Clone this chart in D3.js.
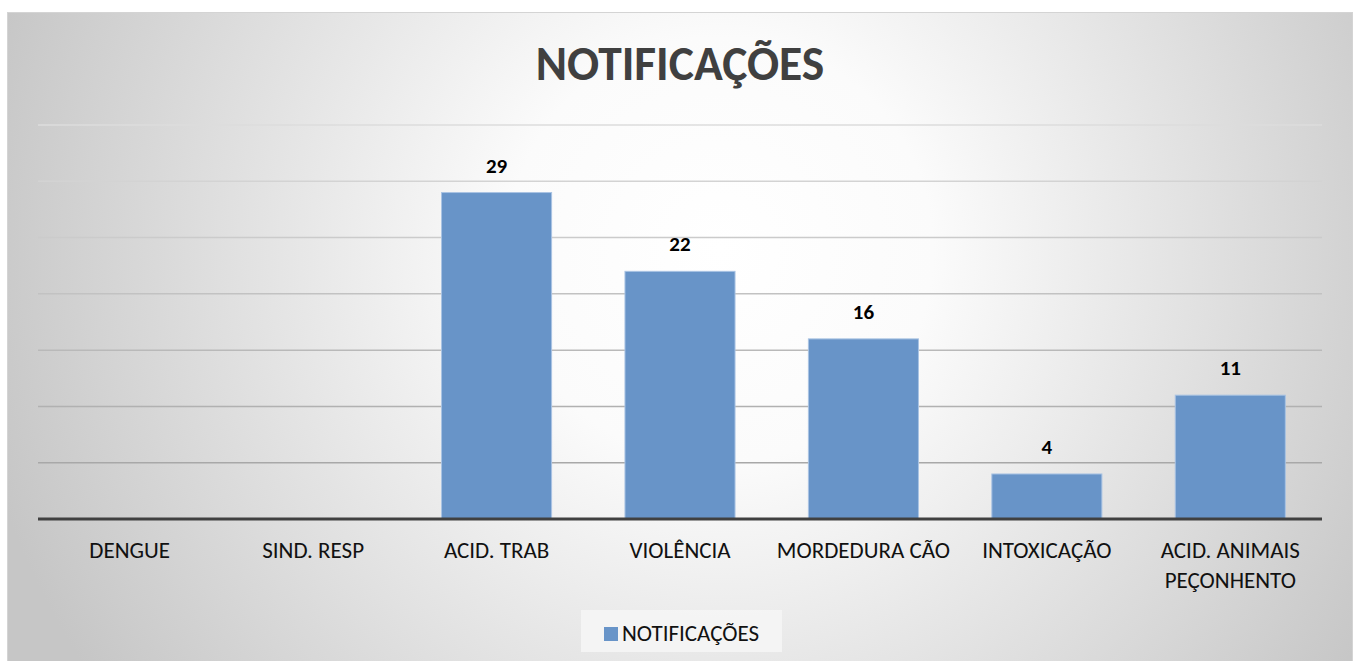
<!DOCTYPE html>
<html>
<head>
<meta charset="utf-8">
<script src="https://cdn.jsdelivr.net/npm/d3@7"></script>
<style>
  html, body { margin: 0; padding: 0; background: #fff; }
  svg { display: block; }
</style>
</head>
<body>
<div id="chart"></div>
<script>
// data
const categories = ['DENGUE', 'SIND. RESP', 'ACID. TRAB', 'VIOLÊNCIA', 'MORDEDURA CÃO', 'INTOXICAÇÃO', 'ACID. ANIMAIS PEÇONHENTO'];
const values = [null, null, 29, 22, 16, 4, 11];
const gridTicks = [0, 5, 10, 15, 20, 25, 30, 35];
const seriesName = 'NOTIFICAÇÕES';
const chartTitle = 'NOTIFICAÇÕES';

const W = 1353, H = 661;
const font = 'Calibri, Carlito, Lato, sans-serif';
const labelSize = 23;

const svg = d3.select('#chart').append('svg')
    .attr('width', W)
    .attr('height', H);

// radial background like the office style
const defs = svg.append('defs');
const grad = defs.append('radialGradient')
    .attr('id', 'bg')
    .attr('gradientUnits', 'userSpaceOnUse')
    .attr('cx', 720).attr('cy', 250).attr('r', 760)
    .attr('fx', 720).attr('fy', 250);
grad.append('stop').attr('offset', '0%').attr('stop-color', '#ffffff');
grad.append('stop').attr('offset', '28%').attr('stop-color', '#fbfbfb');
grad.append('stop').attr('offset', '100%').attr('stop-color', '#c6c6c6');

svg.append('rect')
    .attr('x', 7.5).attr('y', 12.5)
    .attr('width', 1345).attr('height', 660)
    .attr('fill', 'url(#bg)')
    .attr('stroke', '#d4d4d4')
    .attr('stroke-width', 1);

const plot = { left: 38, right: 1322, top: 125, bottom: 519 };

const x = d3.scaleBand()
    .domain(categories)
    .range([plot.left, plot.right])
    .paddingInner(0.4)
    .paddingOuter(0.2);

const y = d3.scaleLinear()
    .domain([0, 35])
    .range([plot.bottom, plot.top]);

// title
svg.append('text')
    .attr('x', 680)
    .attr('y', 80)
    .attr('text-anchor', 'middle')
    .attr('font-family', font)
    .attr('font-weight', 'bold')
    .attr('font-size', 47.5)
    .attr('fill', '#404040')
    .text(chartTitle);

// gridlines, lighter toward the top
const gridColor = d3.scaleLinear().domain([5, 35]).range(['#a8a8a8', '#dcdcdc']);
svg.append('g')
    .selectAll('line')
    .data(gridTicks.filter(t => t > 0))
    .enter()
    .append('line')
    .attr('x1', plot.left).attr('x2', plot.right)
    .attr('y1', d => y(d)).attr('y2', d => y(d))
    .attr('stroke', d => gridColor(d))
    .attr('stroke-width', 1.5);

// bars
const data = categories.map((c, i) => ({ cat: c, val: values[i] }));
const withVal = data.filter(d => d.val !== null);

svg.append('g')
    .selectAll('rect')
    .data(withVal)
    .enter()
    .append('rect')
    .attr('x', d => x(d.cat))
    .attr('y', d => y(d.val))
    .attr('width', x.bandwidth())
    .attr('height', d => y(0) - y(d.val))
    .attr('fill', '#6894c8')
    .attr('stroke', '#a9c3e3')
    .attr('stroke-width', 1);

// data labels
svg.append('g')
    .selectAll('text')
    .data(withVal)
    .enter()
    .append('text')
    .attr('x', d => x(d.cat) + x.bandwidth() / 2)
    .attr('y', d => y(d.val) - 20)
    .attr('text-anchor', 'middle')
    .attr('font-family', font)
    .attr('font-weight', 'bold')
    .attr('font-size', 21)
    .attr('fill', '#000')
    .text(d => d.val);

// x axis
const xAxis = svg.append('g')
    .attr('transform', `translate(0,${plot.bottom})`)
    .call(d3.axisBottom(x).tickSize(0).tickPadding(0));
xAxis.select('.domain')
    .attr('d', `M${plot.left},0H${plot.right}`)
    .attr('stroke', '#404040')
    .attr('stroke-width', 3);
xAxis.selectAll('.tick text').remove();

// category labels, wrapped when wider than the band
const labelG = svg.append('g');
categories.forEach(c => {
    const cx = x(c) + x.bandwidth() / 2;
    const t = labelG.append('text')
        .attr('x', cx)
        .attr('y', 558)
        .attr('text-anchor', 'middle')
        .attr('font-family', font)
        .attr('font-size', labelSize)
        .attr('fill', '#111');
    t.text(c);
    const maxW = x.step() * 1.1;
    if (t.node().getComputedTextLength() > maxW) {
        const words = c.split(' ');
        t.text(null);
        let line = [];
        let lines = [];
        const probe = labelG.append('text')
            .attr('font-family', font).attr('font-size', labelSize);
        words.forEach(w => {
            const test = line.concat([w]).join(' ');
            probe.text(test);
            if (probe.node().getComputedTextLength() > maxW && line.length) {
                lines.push(line.join(' '));
                line = [w];
            } else {
                line.push(w);
            }
        });
        lines.push(line.join(' '));
        probe.remove();
        lines.forEach((l, i) => {
            t.append('tspan')
                .attr('x', cx)
                .attr('dy', i === 0 ? 0 : 30)
                .text(l);
        });
    }
});

// legend
const legend = svg.append('g');
legend.append('rect')
    .attr('x', 581).attr('y', 610)
    .attr('width', 201).attr('height', 42)
    .attr('fill', '#f6f6f6')
    .attr('fill-opacity', 0.85);
legend.append('rect')
    .attr('x', 604).attr('y', 627)
    .attr('width', 14).attr('height', 14)
    .attr('fill', '#6894c8');
legend.append('text')
    .attr('x', 622).attr('y', 641)
    .attr('font-family', font)
    .attr('font-size', labelSize)
    .attr('fill', '#111')
    .text(seriesName);
</script>
</body>
</html>
